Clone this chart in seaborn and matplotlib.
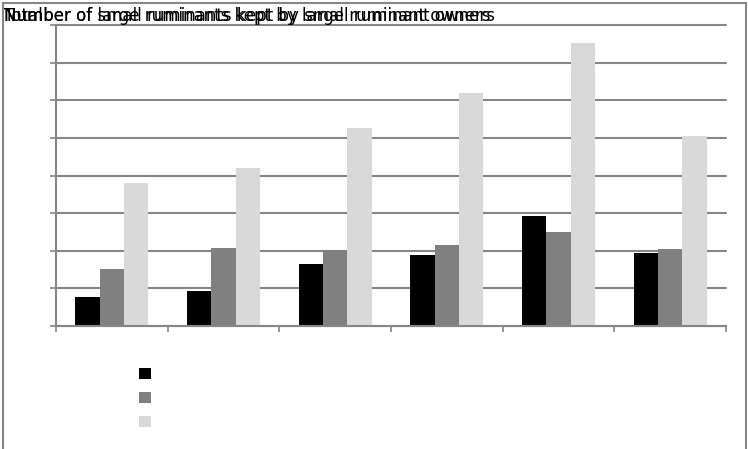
import matplotlib
matplotlib.use("Agg")
import matplotlib.pyplot as plt
from matplotlib.patches import Rectangle
import seaborn as sns
import pandas as pd

categories = ["G1", "G2", "G3", "G4", "G5", "G6"]
series_names = [
    "Number of large ruminants kept by large ruminant owners",
    "Number of small ruminants kept by small ruminant owners",
    "Total",
]
large_vals = [0.77, 0.93, 1.66, 1.90, 2.93, 1.93]
small_vals = [1.52, 2.06, 2.02, 2.16, 2.51, 2.04]
total_vals = [3.80, 4.21, 5.26, 6.18, 7.51, 5.06]
colors = ["#000000", "#808080", "#d9d9d9"]

rows = []
for name, vals in zip(series_names, [large_vals, small_vals, total_vals]):
    for c, v in zip(categories, vals):
        rows.append({"cat": c, "series": name, "value": v})
df = pd.DataFrame(rows)

sns.set_theme(style="white")
plt.rcParams["font.family"] = ["DejaVu Sans"]

W, H = 748, 449
fig = plt.figure(figsize=(W / 100, H / 100), dpi=100)
ax = fig.add_axes([56 / W, 123 / H, (726 - 56) / W, (326 - 25) / H])

sns.barplot(data=df, x="cat", y="value", hue="series", order=categories,
            hue_order=series_names, palette=colors, saturation=1,
            width=0.655, errorbar=None, ax=ax, legend=False, linewidth=0)

grey = "#868686"
ax.set_xlim(-0.5, len(categories) - 0.5)
ax.set_ylim(0, 8)
ax.set_yticks(range(0, 9))
ax.set_yticklabels([])
ax.set_xticks([i - 0.5 for i in range(len(categories) + 1)])
ax.set_xticklabels([])
ax.set_xlabel("")
ax.set_ylabel("")
ax.grid(axis="y", color=grey, linewidth=1.5)
ax.set_axisbelow(True)
for s in ["top", "right"]:
    ax.spines[s].set_visible(False)
for s in ["left", "bottom"]:
    ax.spines[s].set_color(grey)
    ax.spines[s].set_linewidth(1.5)
ax.tick_params(axis="both", direction="out", length=4.5, width=1.2, color=grey,
               left=True, bottom=True)
for gl in ax.get_ygridlines():
    gl.set_clip_on(False)

# legend without labels
handles = [Rectangle((0, 0), 1, 1, facecolor=c, edgecolor="none") for c in colors]
fig.legend(handles, ["", "", ""], loc="upper left",
           bbox_to_anchor=(129 / W, 1 - 358 / H), frameon=False,
           handlelength=0.85, handleheight=0.85, labelspacing=0.72,
           fontsize=10, handletextpad=0.3, borderpad=0.2)

# overlapping series labels at the top-left (as in the reference)
for name in series_names:
    fig.text(4 / W, 1 - 21 / H, name, fontsize=12, color="black", ha="left",
             va="baseline")

# outer frame
fig.add_artist(Rectangle((3 / W, -0.05), (746 - 3) / W, (446 / H) + 0.05,
                         transform=fig.transFigure, fill=False,
                         edgecolor=grey, linewidth=1.5))

fig.savefig("out.png", dpi=100)
